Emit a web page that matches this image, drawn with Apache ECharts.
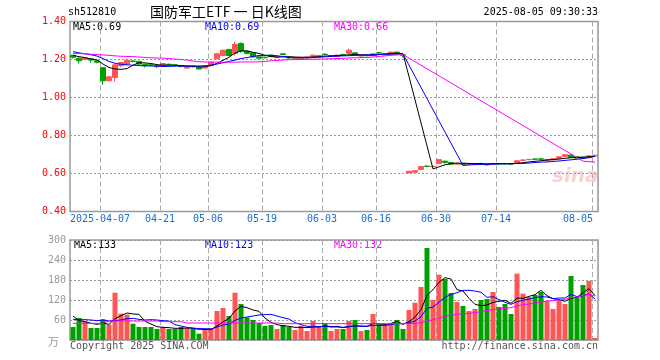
<!DOCTYPE html>
<html><head><meta charset="utf-8">
<script src="https://cdn.jsdelivr.net/npm/echarts@6/dist/echarts.min.js"></script>
<style>html,body{margin:0;padding:0;background:#fff}#c{width:660px;height:360px}</style>
</head><body><div id="c"></div>
<script>
const dates = ['2025-03-28','2025-03-31','2025-04-01','2025-04-02','2025-04-03','2025-04-07','2025-04-08','2025-04-09','2025-04-10','2025-04-11',
'2025-04-14','2025-04-15','2025-04-16','2025-04-17','2025-04-18','2025-04-21','2025-04-22','2025-04-23','2025-04-24','2025-04-25',
'2025-04-28','2025-04-29','2025-04-30','2025-05-06','2025-05-07','2025-05-08','2025-05-09','2025-05-12','2025-05-13','2025-05-14',
'2025-05-15','2025-05-16','2025-05-19','2025-05-20','2025-05-21','2025-05-22','2025-05-23','2025-05-26','2025-05-27','2025-05-28',
'2025-05-29','2025-05-30','2025-06-03','2025-06-04','2025-06-05','2025-06-06','2025-06-09','2025-06-10','2025-06-11','2025-06-12',
'2025-06-13','2025-06-16','2025-06-17','2025-06-18','2025-06-19','2025-06-20','2025-06-23','2025-06-24','2025-06-25','2025-06-26',
'2025-06-27','2025-06-30','2025-07-01','2025-07-02','2025-07-03','2025-07-04','2025-07-07','2025-07-08','2025-07-09','2025-07-10',
'2025-07-11','2025-07-14','2025-07-15','2025-07-16','2025-07-17','2025-07-18','2025-07-21','2025-07-22','2025-07-23','2025-07-24',
'2025-07-25','2025-07-28','2025-07-29','2025-07-30','2025-07-31','2025-08-01','2025-08-04','2025-08-05'];

const tickDates = ['2025-04-07','2025-04-21','2025-05-06','2025-05-19','2025-06-03','2025-06-16','2025-06-30','2025-07-14','2025-08-05'];

const openP = [1.222,1.207,1.200,1.203,1.193,1.157,1.088,1.105,1.167,1.176,
1.192,1.190,1.175,1.172,1.168,1.165,1.175,1.172,1.168,1.155,
1.165,1.160,1.155,1.168,1.204,1.221,1.253,1.232,1.284,1.244,
1.235,1.214,1.212,1.223,1.210,1.230,1.210,1.202,1.205,1.208,
1.214,1.218,1.228,1.217,1.216,1.226,1.232,1.235,1.218,1.222,
1.221,1.236,1.225,1.228,1.239,1.225,0.603,0.607,0.621,0.639,
0.636,0.652,0.665,0.658,0.649,0.653,0.648,0.650,0.653,0.647,
0.650,0.652,0.652,0.651,0.653,0.669,0.673,0.676,0.677,0.669,
0.672,0.679,0.690,0.697,0.688,0.686,0.683,0.692];
const closeP = [1.212,1.193,1.209,1.197,1.186,1.088,1.109,1.172,1.184,1.196,
1.190,1.176,1.167,1.170,1.163,1.179,1.173,1.170,1.163,1.165,
1.162,1.150,1.162,1.186,1.230,1.249,1.221,1.279,1.244,1.232,
1.214,1.207,1.210,1.215,1.215,1.226,1.208,1.210,1.210,1.212,
1.223,1.221,1.226,1.221,1.223,1.224,1.249,1.223,1.222,1.220,
1.230,1.234,1.232,1.239,1.228,1.222,0.612,0.615,0.637,0.637,
0.638,0.673,0.658,0.649,0.653,0.648,0.652,0.651,0.652,0.646,
0.651,0.651,0.651,0.650,0.667,0.671,0.674,0.675,0.675,0.674,
0.678,0.688,0.699,0.685,0.681,0.680,0.693,0.696];
const lowP = [1.205,1.180,1.196,1.182,1.180,1.067,1.083,1.083,1.160,1.170,
1.185,1.172,1.158,1.165,1.155,1.160,1.168,1.165,1.158,1.152,
1.158,1.147,1.152,1.165,1.200,1.218,1.218,1.221,1.235,1.228,
1.210,1.203,1.205,1.212,1.207,1.222,1.203,1.200,1.203,1.205,
1.212,1.216,1.222,1.215,1.214,1.218,1.230,1.220,1.216,1.217,
1.219,1.228,1.223,1.226,1.225,1.212,0.602,0.605,0.620,0.633,
0.633,0.650,0.652,0.647,0.646,0.646,0.646,0.648,0.648,0.641,
0.648,0.646,0.647,0.647,0.651,0.667,0.671,0.671,0.670,0.668,
0.670,0.677,0.688,0.683,0.680,0.678,0.681,0.690];
const highP = [1.225,1.210,1.212,1.206,1.196,1.160,1.112,1.175,1.187,1.205,
1.196,1.193,1.177,1.176,1.170,1.182,1.178,1.176,1.170,1.167,
1.167,1.162,1.165,1.188,1.235,1.252,1.256,1.293,1.290,1.247,
1.237,1.216,1.215,1.226,1.218,1.232,1.214,1.212,1.213,1.215,
1.225,1.225,1.232,1.223,1.226,1.231,1.257,1.237,1.224,1.224,
1.232,1.240,1.234,1.241,1.241,1.227,0.613,0.617,0.638,0.643,
0.641,0.675,0.668,0.660,0.655,0.655,0.654,0.654,0.656,0.649,
0.654,0.655,0.653,0.653,0.668,0.675,0.678,0.679,0.679,0.675,
0.679,0.689,0.702,0.699,0.690,0.688,0.695,0.698];

const ma5 = [1.222,1.215,1.210,1.203,1.198,1.176,1.158,1.150,1.148,1.152,
1.170,1.183,1.182,1.179,1.173,1.170,1.170,1.169,1.168,1.166,
1.164,1.161,1.163,1.168,1.180,1.196,1.212,1.234,1.246,1.245,
1.238,1.232,1.222,1.216,1.213,1.214,1.215,1.213,1.212,1.212,
1.213,1.215,1.218,1.219,1.221,1.221,1.225,1.226,1.225,1.224,
1.223,1.226,1.228,1.232,1.232,1.231,null,null,null,null,
0.624,0.635,0.646,0.652,0.655,0.654,0.653,0.652,0.652,0.651,
0.652,0.652,0.652,0.651,0.653,0.657,0.661,0.664,0.667,0.671,
0.673,0.676,0.680,0.683,0.684,0.686,0.688,0.690];
const ma10 = [1.241,1.235,1.230,1.225,1.218,1.205,1.190,1.180,1.175,1.172,
1.170,1.168,1.167,1.166,1.165,1.163,1.164,1.165,1.166,1.165,
1.166,1.166,1.167,1.170,1.176,1.183,1.190,1.197,1.205,1.210,
1.216,1.221,1.222,1.222,1.220,1.215,1.212,1.210,1.209,1.209,
1.210,1.212,1.214,1.216,1.218,1.219,1.220,1.222,1.223,1.224,
1.225,1.226,1.227,1.228,1.229,1.229,null,null,null,null,
null,null,null,null,null,0.642,0.645,0.647,0.648,0.648,
0.649,0.650,0.651,0.652,0.653,0.653,0.655,0.658,0.660,0.661,
0.663,0.666,0.669,0.672,0.675,0.679,0.684,0.690];
const ma30 = [1.232,1.231,1.230,1.228,1.226,1.224,1.222,1.219,1.217,1.216,
1.215,1.213,1.211,1.209,1.208,1.207,1.205,1.202,1.200,1.197,
1.192,1.188,1.187,1.186,1.186,1.186,1.186,1.186,1.187,1.187,
1.187,1.188,1.190,1.193,1.195,1.197,1.199,1.200,1.200,1.201,
1.201,1.202,1.203,1.204,1.205,1.206,1.208,1.209,1.210,1.211,
1.213,1.216,1.219,1.222,1.224,1.226,null,null,null,null,
null,null,null,null,null,null,null,null,null,null,
null,null,null,null,null,null,null,null,null,null,
null,null,null,null,null,0.665,0.662,0.660];

const volume = [39,66,56,36,36,62,46,142,79,76,
49,39,39,39,33,39,33,33,39,36,
33,19,33,36,87,96,72,142,108,68,
60,51,42,45,33,45,39,30,42,27,
57,39,51,27,33,33,57,60,27,30,
78,48,45,48,60,33,90,112,159,276,
120,196,183,141,114,102,87,93,120,123,
144,99,108,78,199,139,129,135,144,117,
93,117,108,192,129,165,177,6];
const volMa5 = [72,58,55,50,47,51,47,64,73,81,
78,77,56,48,40,38,37,35,35,36,
35,32,32,31,42,54,65,87,101,97,
90,86,66,53,46,43,41,38,38,37,
39,39,43,40,41,37,40,42,42,41,
50,49,46,50,56,47,55,69,91,134,
151,173,187,183,151,147,125,107,103,105,
113,116,119,110,126,125,131,136,149,133,
124,121,116,125,128,142,154,133];
const volMa10 = [62,61,61,60,58,60,57,58,60,64,
65,62,60,61,60,58,57,46,42,38,
36,34,34,33,39,45,48,59,66,69,
72,75,76,77,72,67,63,52,46,41,
41,40,41,39,39,38,40,43,41,41,
44,44,44,46,49,49,52,57,70,95,
99,114,128,137,142,149,149,147,143,128,
130,121,113,107,115,119,123,127,130,129,
124,126,126,137,130,133,138,123];
const volMa30 = [50,50,50,50,50,50,57,57,57,57,
57,57,57,57,57,55,55,55,55,51,
51,51,51,51,51,51,51,51,51,51,
51,51,51,51,51,49,49,49,49,49,
49,49,49,49,49,49,49,49,49,49,
49,49,49,49,49,49,49,50,52,57,
61,66,71,74,77,79,80,82,85,88,
91,93,95,97,102,106,108,111,114,117,
118,120,122,127,129,134,137,132];

const priceTicks = {min:0.4, max:1.4, step:0.2};
const volTicks = {min:0, max:300, step:60};

const RED = '#ff5555', GREEN = '#00a000';
const MONO = '"DejaVu Sans Mono", "Liberation Mono", monospace';
const isTick = (i) => tickDates.indexOf(dates[i]) >= 0;
const lastIdx = dates.length - 1;

const candleData = dates.map((d, i) => [openP[i], closeP[i], lowP[i], highP[i]]);
const volData = volume.map((v, i) => ({value: v, itemStyle: {color: closeP[i] >= openP[i] ? RED : GREEN}}));

const chart = echarts.init(document.getElementById('c'), null, {renderer: 'canvas'});

function xAx(gi, showLabel) {
  return {
    type: 'category', gridIndex: gi, data: dates, boundaryGap: true,
    axisLine: {show: false}, axisTick: {show: false},
    splitLine: {show: true, interval: (i) => isTick(i), lineStyle: {color: '#aaaaaa', type: [5, 3], width: 1}},
    axisLabel: {
      show: showLabel, interval: (i) => isTick(i), margin: 3,
      color: '#1a6fc9', fontFamily: MONO, fontSize: 10,
      formatter: (v, i) => {
        const t = (v === tickDates[0]) ? v : v.slice(5);
        return (i === lastIdx) ? '{l|' + t + '}' : '{n|' + t + '}';
      },
      rich: {
        n: {padding: [0, 6, 0, 0], color: '#1a6fc9', fontFamily: MONO, fontSize: 10},
        l: {padding: [0, 34, 0, 0], color: '#1a6fc9', fontFamily: MONO, fontSize: 10}
      }
    }
  };
}

function maLine(name, data, color, xi, yi) {
  return {name: name, type: 'line', data: data, xAxisIndex: xi, yAxisIndex: yi,
    symbol: 'none', showSymbol: false, connectNulls: true, silent: true,
    lineStyle: {color: color, width: 1}, z: 5};
}

const option = {
  animation: false,
  backgroundColor: '#ffffff',
  grid: [
    {left: 70, top: 21.5, width: 528, height: 190, show: true, borderColor: '#999999', borderWidth: 1.5, backgroundColor: 'transparent'},
    {left: 70, top: 240, width: 528, height: 100, show: true, borderColor: '#999999', borderWidth: 1.5, backgroundColor: 'transparent'}
  ],
  xAxis: [xAx(0, true), xAx(1, false)],
  yAxis: [
    {type: 'value', gridIndex: 0, min: priceTicks.min, max: priceTicks.max, interval: priceTicks.step,
     axisLine: {show: false}, axisTick: {show: false},
     splitLine: {show: true, lineStyle: {color: '#999999', type: [2, 2], width: 1}},
     axisLabel: {color: '#ff0000', fontFamily: MONO, fontSize: 10, margin: 4, formatter: (v) => v.toFixed(2)}},
    {type: 'value', gridIndex: 1, min: volTicks.min, max: volTicks.max, interval: volTicks.step,
     axisLine: {show: false}, axisTick: {show: false},
     splitLine: {show: true, lineStyle: {color: '#999999', type: [2, 2], width: 1}},
     axisLabel: {color: '#999999', fontFamily: MONO, fontSize: 10, margin: 4, formatter: (v) => v === 0 ? '' : String(v)}}
  ],
  series: [
    {type: 'candlestick', xAxisIndex: 0, yAxisIndex: 0, data: candleData, barWidth: 5,
     itemStyle: {color: RED, color0: GREEN, borderColor: RED, borderColor0: GREEN, borderWidth: 1}},
    maLine('MA5', ma5, '#000000', 0, 0),
    maLine('MA10', ma10, '#0000ff', 0, 0),
    maLine('MA30', ma30, '#ff00ff', 0, 0),
    {type: 'bar', xAxisIndex: 1, yAxisIndex: 1, data: volData, barWidth: 5},
    maLine('VMA5', volMa5, '#000000', 1, 1),
    maLine('VMA10', volMa10, '#0000ff', 1, 1),
    maLine('VMA30', volMa30, '#ff00ff', 1, 1)
  ],
  graphic: [
    {type: 'text', left: 68, top: 7, style: {text: 'sh512810', fill: '#000', font: '10px ' + MONO}},
    {type: 'text', left: 150, top: 5, style: {text: '国防军工ETF 一 日K线图', fill: '#000', font: '14px "Noto Sans CJK SC"'}},
    {type: 'text', right: 62, top: 7, style: {text: '2025-08-05 09:30:33', fill: '#000', font: '10px ' + MONO}},
    {type: 'text', left: 73, top: 22, style: {text: 'MA5:0.69', fill: '#000000', font: '10px ' + MONO}},
    {type: 'text', left: 205, top: 22, style: {text: 'MA10:0.69', fill: '#0000ff', font: '10px ' + MONO}},
    {type: 'text', left: 334, top: 22, style: {text: 'MA30:0.66', fill: '#ff00ff', font: '10px ' + MONO}},
    {type: 'text', left: 74, top: 240, style: {text: 'MA5:133', fill: '#000000', font: '10px ' + MONO}},
    {type: 'text', left: 205, top: 240, style: {text: 'MA10:123', fill: '#0000ff', font: '10px ' + MONO}},
    {type: 'text', left: 334, top: 240, style: {text: 'MA30:132', fill: '#ff00ff', font: '10px ' + MONO}},
    {type: 'text', left: 48, top: 336, style: {text: '万', fill: '#999999', font: '11px "Noto Sans CJK SC"'}},
    {type: 'text', left: 70, top: 341, style: {text: 'Copyright 2025 SINA.COM', fill: '#555555', font: '10px ' + MONO}},
    {type: 'text', right: 62, top: 341, style: {text: 'http://finance.sina.com.cn', fill: '#555555', font: '10px ' + MONO}},
    {type: 'text', left: 552, top: 167, style: {text: 'sina', fill: 'rgba(225,110,110,0.3)', font: 'italic bold 20px "DejaVu Sans"'}}
  ]
};
chart.setOption(option);
</script>
</body></html>
